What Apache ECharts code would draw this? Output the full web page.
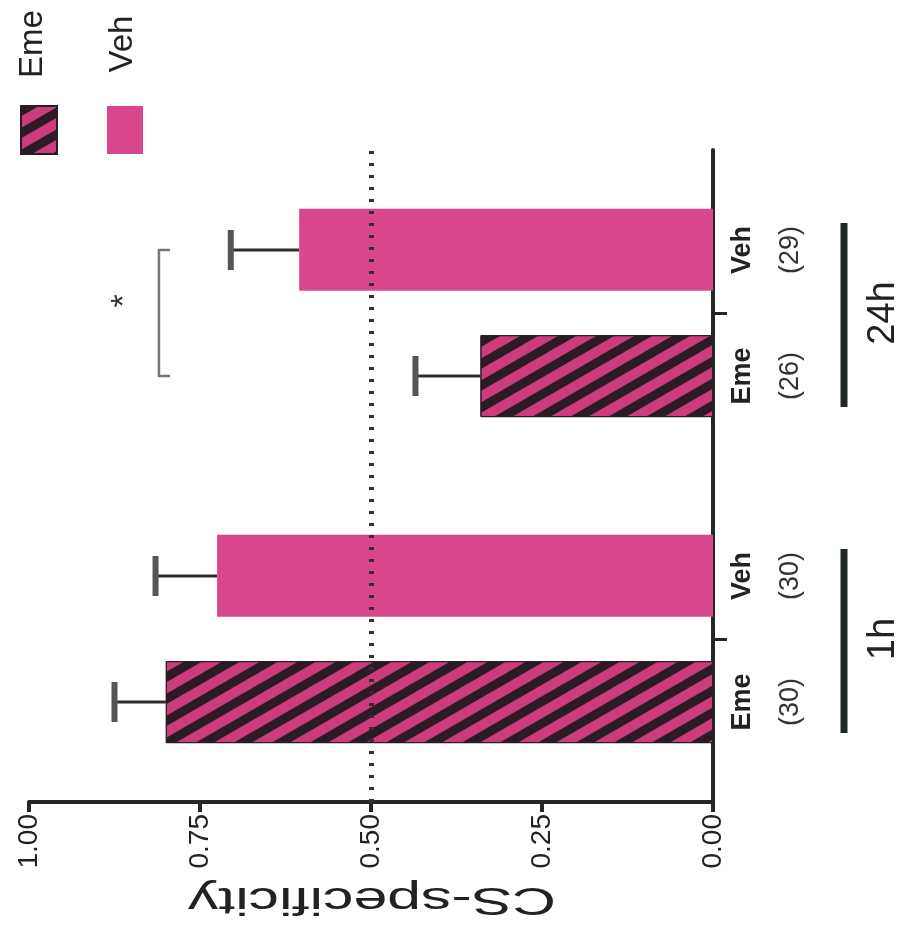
<!DOCTYPE html>
<html><head><meta charset="utf-8">
<script src="https://cdn.jsdelivr.net/npm/echarts@6/dist/echarts.min.js"></script>
<style>html,body{margin:0;padding:0;background:#fff}#c{width:915px;height:930px}</style>
</head><body><div id="c"></div>
<script>
// ---- data ----
const categories = ['1h', '24h'];
const groupNames = ['Eme', 'Veh'];
const emeMean = [0.80, 0.34];
const emeSem = [0.075, 0.095];
const vehMean = [0.725, 0.605];
const vehSem = [0.09, 0.10];
const emeN = [30, 26];
const vehN = [30, 29];
const chanceLevel = 0.5;
const valueTicks = [0, 0.25, 0.5, 0.75, 1];
const valueAxisTitle = 'CS-specificity';
const sigCategory = 1;
const sigMark = '*';

// ---- style / layout ----
const BAR_W = 82, HALF = 63;
const PINK = '#d8468c', EME_PINK = '#cc3b7b', DARK = '#2a1b24', AXIS = '#262626';
const FONT = '"Liberation Sans", Arial, sans-serif';
function offsetFor(g) { return g === 0 ? HALF : -HALF; } // Eme below, Veh above

const errData = [];
const lblData = [];
categories.forEach((c, i) => {
  errData.push([i, emeMean[i], emeSem[i], 0]);
  errData.push([i, vehMean[i], vehSem[i], 1]);
  lblData.push([i, 0, 0, emeN[i]]);
  lblData.push([i, 0, 1, vehN[i]]);
});
const sigTop = Math.max(emeMean[sigCategory] + emeSem[sigCategory], vehMean[sigCategory] + vehSem[sigCategory]);
const sigData = [[sigCategory, sigTop + 0.105, sigTop + 0.155]];
const grpData = categories.map((c, i) => [i, 0]);

const chart = echarts.init(document.getElementById('c'), null, { renderer: 'canvas' });
const option = {
  animation: false,
  backgroundColor: '#fff',
  textStyle: { fontFamily: FONT },
  grid: { left: 29, right: 202, top: 150, bottom: 128, containLabel: false, outerBoundsMode: 'none' },
  legend: {
    data: groupNames, left: 15, top: 100, itemWidth: 36, itemHeight: 48, itemGap: 49,
    icon: 'rect', formatter: () => '', selectedMode: false
  },
  graphic: groupNames.map((g, i) => ({
    type: 'text', x: 33 + i * 90, y: 44, rotation: Math.PI / 2,
    style: { text: g, fontSize: 33, fontFamily: FONT, fill: '#222', align: 'center', verticalAlign: 'middle' }
  })).concat([{
    type: 'text', x: 372, y: 898, rotation: Math.PI, scaleX: 1.6,
    style: { text: valueAxisTitle, fontSize: 38, fontFamily: FONT, fill: '#222', align: 'center', verticalAlign: 'middle' }
  }]),
  xAxis: {
    type: 'value', inverse: true, position: 'bottom',
    min: valueTicks[0], max: valueTicks[valueTicks.length - 1], interval: valueTicks[1] - valueTicks[0],
    axisLine: { show: true, lineStyle: { color: AXIS, width: 4 } },
    axisTick: { show: true, length: 10, lineStyle: { color: AXIS, width: 4 } },
    axisLabel: { rotate: 90, fontSize: 28, color: '#222', margin: 12, formatter: v => v.toFixed(2) },
    splitLine: { show: false }
  },
  yAxis: {
    type: 'category', data: categories, position: 'right',
    axisLine: { show: true, lineStyle: { color: AXIS, width: 4 } },
    axisTick: { show: true, alignWithLabel: true, length: 14, lineStyle: { color: AXIS, width: 3 } },
    axisLabel: { rotate: 90, margin: 152, fontSize: 38, color: '#222' },
    splitLine: { show: false }
  },
  series: [
    {
      name: 'Veh', type: 'bar', data: vehMean, barWidth: BAR_W, barGap: '54%',
      itemStyle: { color: PINK },
      markLine: {
        silent: true, symbol: 'none', label: { show: false },
        lineStyle: { type: [3, 9], width: 5, color: '#3a2a33', opacity: 1 },
        data: [{ xAxis: chanceLevel }]
      }
    },
    {
      name: 'Eme', type: 'bar', data: emeMean, barWidth: BAR_W, barGap: '54%',
      itemStyle: {
        color: EME_PINK, borderColor: DARK, borderWidth: 1,
        decal: { symbol: 'rect', symbolSize: 1, dashArrayX: [1, 0], dashArrayY: [9, 10], rotation: -Math.PI / 6, color: DARK }
      }
    },
    {
      name: 'errors', type: 'custom', coordinateSystem: 'cartesian2d', silent: true, clip: false,
      encode: { x: 1, y: 0 }, data: errData, z: 1,
      renderItem: (params, api) => {
        const cat = api.value(0), m = api.value(1), s = api.value(2), g = api.value(3);
        const p0 = api.coord([m, cat]), p1 = api.coord([m + s, cat]);
        const y = p0[1] + offsetFor(g);
        return { type: 'group', children: [
          { type: 'line', shape: { x1: p0[0], y1: y, x2: p1[0], y2: y }, style: { stroke: '#2e2e2e', lineWidth: 3 } },
          { type: 'line', shape: { x1: p1[0], y1: y - 20, x2: p1[0], y2: y + 20 }, style: { stroke: '#555', lineWidth: 6 } }
        ] };
      }
    },
    {
      name: 'barLabels', type: 'custom', coordinateSystem: 'cartesian2d', silent: true, clip: false,
      encode: { x: 1, y: 0 }, data: lblData,
      renderItem: (params, api) => {
        const cat = api.value(0), g = api.value(2), n = api.value(3);
        const p = api.coord([0, cat]);
        const y = p[1] + offsetFor(g);
        return { type: 'group', children: [
          { type: 'text', x: p[0] + 30, y: y, rotation: Math.PI / 2,
            style: { text: groupNames[g], fontSize: 27, fontWeight: 'bold', fontFamily: FONT, fill: '#222', align: 'center', verticalAlign: 'middle' } },
          { type: 'text', x: p[0] + 78, y: y, rotation: Math.PI / 2,
            style: { text: '(' + n + ')', fontSize: 27, fontFamily: FONT, fill: '#333', align: 'center', verticalAlign: 'middle' } }
        ] };
      }
    },
    {
      name: 'groupLines', type: 'custom', coordinateSystem: 'cartesian2d', silent: true, clip: false,
      encode: { x: 1, y: 0 }, data: grpData,
      renderItem: (params, api) => {
        const p = api.coord([0, api.value(0)]);
        return { type: 'line', shape: { x1: p[0] + 131, y1: p[1] - 90, x2: p[0] + 131, y2: p[1] + 94 },
          style: { stroke: '#1f2626', lineWidth: 7 } };
      }
    },
    {
      name: 'significance', type: 'custom', coordinateSystem: 'cartesian2d', silent: true, clip: false,
      encode: { x: 1, y: 0 }, data: sigData,
      renderItem: (params, api) => {
        const cat = api.value(0);
        const pb = api.coord([api.value(1), cat]);
        const ps = api.coord([api.value(2), cat]);
        const y1 = pb[1] - HALF, y2 = pb[1] + HALF;
        return { type: 'group', children: [
          { type: 'polyline', shape: { points: [[pb[0] + 11, y1], [pb[0], y1], [pb[0], y2], [pb[0] + 11, y2]] },
            style: { stroke: '#777', lineWidth: 2.5, fill: null } },
          { type: 'text', x: ps[0], y: ps[1] - 12, rotation: Math.PI / 2,
            style: { text: sigMark, fontSize: 34, fontFamily: FONT, fill: '#333', align: 'center', verticalAlign: 'middle' } }
        ] };
      }
    }
  ]
};
chart.setOption(option);
</script>
</body></html>
